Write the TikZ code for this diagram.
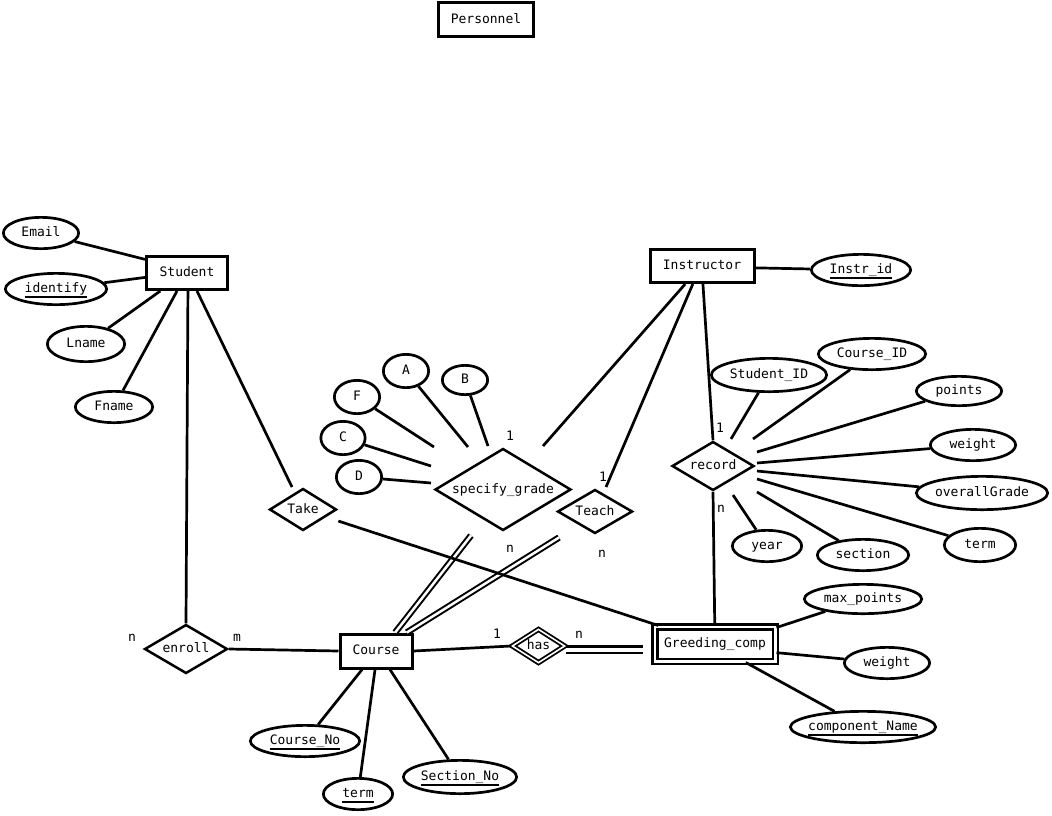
\documentclass[tikz,border=0pt]{standalone}
\usepackage{fontspec}
\newfontfamily\erfont{DejaVu Sans Mono}
\usetikzlibrary{shapes.geometric,calc}
% attribute text that does not widen its ellipse
\newcommand{\attxt}[1]{\makebox[0pt]{#1}}
% key attribute: underlined text
\newcommand{\keytxt}[1]{\makebox[0pt]{\setbox0\hbox{#1}\rlap{\smash{\rule[-5.7pt]{\wd0}{2.4pt}}}\box0}}

\begin{document}
\begin{tikzpicture}[x=1pt,y=-1pt,
  every node/.style={font=\erfont\fontsize{13}{15}\selectfont, inner sep=0pt,
                     text height=9.5pt, text depth=2.5pt},
  entity/.style={draw, rectangle, line width=3pt},
  weakentity/.style={draw, rectangle, double, line width=2.5pt, double distance=2.5pt},
  attr/.style={draw, ellipse, line width=2.7pt},
  rel/.style={draw, diamond, line width=2.5pt},
  weakrel/.style={draw, diamond, double, line width=1.8pt, double distance=1.6pt},
  link/.style={line width=2.7pt},
  totallink/.style={line width=2pt, double, double distance=2.5pt},
  idlink/.style={line width=2.6pt, double, double distance=4pt}
]
\useasboundingbox (0,0) rectangle (1052,815);
\fill[white] (0,0) rectangle (1052,815);

% ---------- entities ----------
\node[entity, minimum width=95pt, minimum height=34pt] (personnel) at (486,19.5) {Personnel};
\node[entity, minimum width=81pt, minimum height=33pt] (student) at (187,273) {Student};
\node[entity, minimum width=104pt, minimum height=33pt] (instructor) at (702,266) {Instructor};
\node[entity, minimum width=72pt, minimum height=34pt] (course) at (376,651) {Course};
\node[weakentity, minimum width=120.5pt, minimum height=34.5pt] (gcomp) at (715,644) {Greeding\_comp};

% ---------- relationships ----------
\node[rel, aspect=1.66, minimum width=136pt, minimum height=82pt] (spec) at (503,489.5) {specify\_grade};
\node[rel, aspect=1.7, minimum width=75pt, minimum height=44pt] (teach) at (595,511.5) {Teach};
\node[rel, aspect=1.6, minimum width=67pt, minimum height=42pt] (take) at (303,509.5) {Take};
\node[rel, aspect=1.67, minimum width=82pt, minimum height=49pt] (record) at (713,466) {record};
\node[rel, aspect=1.7, minimum width=83pt, minimum height=49pt] (enroll) at (186,649) {enroll};
\node[weakrel, aspect=1.56, minimum width=53pt, minimum height=34pt] (has) at (538.5,646) {has};

% ---------- attributes: Student ----------
\node[attr, minimum width=75.3pt, minimum height=31.3pt] (email) at (41,233) {\attxt{Email}};
\node[attr, minimum width=101.3pt, minimum height=31.3pt] (identify) at (56,289) {\keytxt{identify}};
\node[attr, minimum width=77.3pt, minimum height=35.3pt] (lname) at (86,344) {\attxt{Lname}};
\node[attr, minimum width=77.3pt, minimum height=31.3pt] (fname) at (114,407) {\attxt{Fname}};

% ---------- attributes: Instructor ----------
\node[attr, minimum width=99.3pt, minimum height=31.3pt] (instrid) at (861,270) {\keytxt{Instr\_id}};

% ---------- attributes: specify_grade ----------
\node[attr, minimum width=45.3pt, minimum height=33.3pt] (ga) at (406,371) {\attxt{A}};
\node[attr, minimum width=45.3pt, minimum height=29.3pt] (gb) at (465,380) {\attxt{B}};
\node[attr, minimum width=45.3pt, minimum height=33.3pt] (gf) at (357,397) {\attxt{F}};
\node[attr, minimum width=44.3pt, minimum height=33.3pt] (gc) at (343,438) {\attxt{C}};
\node[attr, minimum width=45.3pt, minimum height=33.3pt] (gd) at (359,477) {\attxt{D}};

% ---------- attributes: record ----------
\node[attr, minimum width=115.3pt, minimum height=33.3pt] (studentid) at (769,375) {\attxt{Student\_ID}};
\node[attr, minimum width=107.3pt, minimum height=31.3pt] (courseid) at (872,354) {\attxt{Course\_ID}};
\node[attr, minimum width=85.3pt, minimum height=29.3pt] (points) at (959,391) {\attxt{points}};
\node[attr, minimum width=85.3pt, minimum height=31.3pt] (rweight) at (973,445) {\attxt{weight}};
\node[attr, minimum width=131.3pt, minimum height=33.3pt] (overall) at (982,493) {\attxt{overallGrade}};
\node[attr, minimum width=71.3pt, minimum height=33.3pt] (rterm) at (980,545) {\attxt{term}};
\node[attr, minimum width=91.3pt, minimum height=31.3pt] (section) at (863,555) {\attxt{section}};
\node[attr, minimum width=69.3pt, minimum height=31.3pt] (year) at (767,546) {\attxt{year}};

% ---------- attributes: Greeding_comp ----------
\node[attr, minimum width=117.3pt, minimum height=29.3pt] (maxpoints) at (863,599) {\attxt{max\_points}};
\node[attr, minimum width=85.3pt, minimum height=31.3pt] (gweight) at (887,663) {\attxt{weight}};
\node[attr, minimum width=145.3pt, minimum height=31.3pt] (compname) at (863,727) {\keytxt{component\_Name}};

% ---------- attributes: Course ----------
\node[attr, minimum width=109.3pt, minimum height=31.3pt] (courseno) at (305,741) {\keytxt{Course\_No}};
\node[attr, minimum width=69.3pt, minimum height=31.3pt] (cterm) at (358,794) {\keytxt{term}};
\node[attr, minimum width=113.3pt, minimum height=33.3pt] (sectionno) at (460,777) {\keytxt{Section\_No}};

% ---------- loose line ends ----------
\coordinate (endA) at (468,447);
\coordinate (endB) at (488,446);
\coordinate (endF) at (434,447);
\coordinate (endC) at (431,466);
\coordinate (endD) at (431,483);
\coordinate (specTop) at (543,446);
\coordinate (teachTop) at (606,487);
\coordinate (takeTop) at (292,487);
\coordinate (specFoot) at (471,535.5);
\coordinate (teachFoot) at (559,537.5);
\coordinate (endSID) at (731,439);
\coordinate (endCID) at (753,439);
\coordinate (endPts) at (757,452);
\coordinate (endWt) at (757,463);
\coordinate (endOG) at (757,471);
\coordinate (endTerm) at (757,479);
\coordinate (endSec) at (757,492);
\coordinate (endYear) at (733,495);
\coordinate (hasEnd) at (643,649.5);

% ---------- Student links ----------
\draw[link] (email) -- (student.162);
\draw[link] (identify) -- (student.186);
\draw[link] (lname) -- (student.214);
\draw[link] (fname) -- (student.241);
\draw[link] (student.273) -- (enroll.north);
\draw[link] (student.299) -- (takeTop);

% ---------- Instructor links ----------
\draw[link] (instructor.-2) -- (instrid);
\draw[link] (instructor.227) -- (specTop);
\draw[link] (instructor.243) -- (teachTop);
\draw[link] (instructor.273) -- (record.north);

% ---------- specify_grade attribute links ----------
\draw[link] (ga) -- (endA);
\draw[link] (gb) -- (endB);
\draw[link] (gf) -- (endF);
\draw[link] (gc) -- (endC);
\draw[link] (gd) -- (endD);

% ---------- record attribute links ----------
\draw[link] (studentid) -- (endSID);
\draw[link] (courseid) -- (endCID);
\draw[link] (points) -- (endPts);
\draw[link] (rweight) -- (endWt);
\draw[link] (overall) -- (endOG);
\draw[link] (rterm) -- (endTerm);
\draw[link] (section) -- (endSec);
\draw[link] (year) -- (endYear);
\draw[link] (record.south) -- (gcomp);

% ---------- Greeding_comp attribute links ----------
\draw[link] (maxpoints) -- (gcomp.15);
\draw[link] (gweight) -- (gcomp.-8);
\draw[link] (compname) -- (gcomp.-31);

% ---------- Course links ----------
\draw[link] (courseno) -- (course.233);
\draw[link] (cterm) -- (course.267);
\draw[link] (sectionno) -- (course.307);
\draw[link] (enroll.east) -- (course.west);
\draw[link] (course.east) -- (has.west);
\draw[totallink] (course.44) -- (specFoot);
\draw[totallink] (course.31) -- (teachFoot);
\draw[idlink] ($(has.east)+(0,3.5)$) -- (hasEnd);

% ---------- Take link ----------
\draw[link, shorten <=13pt] (take) -- (gcomp);

% ---------- cardinalities ----------
\node (c1) at (510,437) {1};
\node (c2) at (603,478) {1};
\node (c3) at (510,549) {n};
\node (c4) at (602,554) {n};
\node (c5) at (720,429) {1};
\node (c6) at (721,509) {n};
\node (c7) at (497,635) {1};
\node (c8) at (579,635) {n};
\node (c9) at (132,638) {n};
\node (c10) at (237,638) {m};
\end{tikzpicture}
\end{document}
